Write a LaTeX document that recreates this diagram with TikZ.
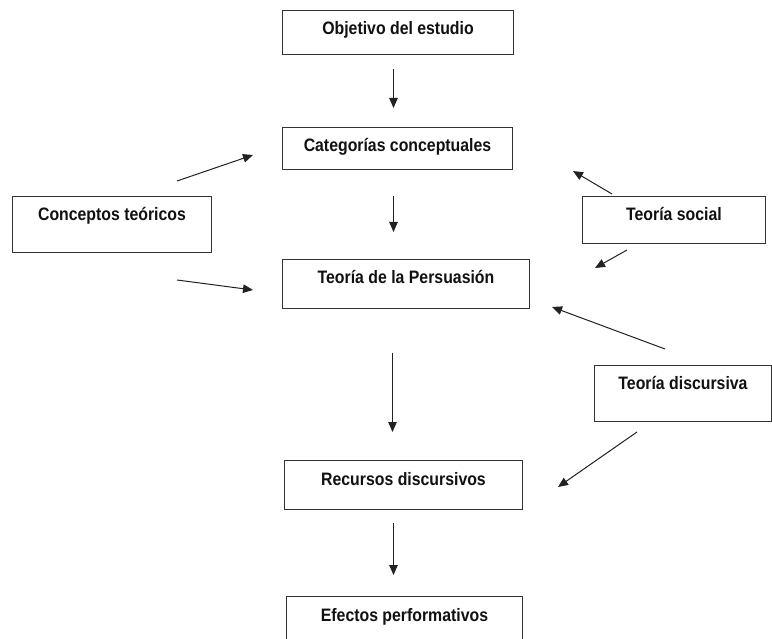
\documentclass[tikz,border=0pt]{standalone}
\usepackage{fontspec}
\setmainfont{Liberation Sans}[FakeStretch=0.88]
\usetikzlibrary{arrows.meta,calc}
\definecolor{boxline}{HTML}{333333}
\definecolor{arrline}{HTML}{222222}
\definecolor{txt}{HTML}{111111}
\tikzset{
  bx/.style={draw=boxline, line width=1pt, inner sep=0pt, anchor=north west,
    text=txt, font=\fontsize{18}{20}\selectfont\bfseries,
    text height=24.5pt, align=center},
  arr/.style={draw=arrline, line width=1pt, -{Triangle[length=10pt,width=8.5pt]}}
}
\begin{document}
\begin{tikzpicture}[x=1pt,y=-1pt]
\useasboundingbox (0,0) rectangle (772,639);
\clip (0,0) rectangle (772,639);
\fill[white] (0,0) rectangle (772,639);
% boxes
\node[bx, minimum width=231pt, text depth=19.5pt] (obj) at (282,10) {Objetivo del estudio};
\node[bx, minimum width=230pt, text depth=17.5pt] (cat) at (282,127) {Categorías conceptuales};
\node[bx, minimum width=247pt, text depth=24.5pt] (per) at (282,259) {Teoría de la Persuasión};
\node[bx, minimum width=238pt, text depth=24.5pt] (rec) at (284,460) {Recursos discursivos};
\node[bx, minimum width=236pt, text depth=35.5pt] (efe) at (286,596) {Efectos performativos};
\node[bx, minimum width=199pt, text depth=31.5pt] (con) at (12,196) {Conceptos teóricos};
\node[bx, minimum width=183pt, text depth=22.5pt] (soc) at (582,196) {Teoría social};
\node[bx, minimum width=177pt, text depth=31.5pt] (dis) at (594,365) {Teoría discursiva};
% vertical connectors
\draw[arr, shorten <=14pt, shorten >=19pt] ([xshift=-4.5pt]obj.south) -- ([xshift=-4.5pt]obj.south |- cat.north);
\draw[arr, shorten <=26pt, shorten >=27pt] ([xshift=-4pt]cat.south) -- ([xshift=-4pt]cat.south |- per.north);
\draw[arr, shorten <=44pt, shorten >=28pt] ([xshift=-13.5pt]per.south) -- ([xshift=-13.5pt]per.south |- rec.north);
\draw[arr, shorten <=13pt, shorten >=21pt] ([xshift=-10pt]rec.south) -- ([xshift=-10pt]rec.south |- efe.north);
% side connector ends
\coordinate (conA) at (177,181);
\coordinate (catL) at (253,155);
\coordinate (conB) at (177,280);
\coordinate (perL) at (253,290);
\coordinate (socA) at (612,194);
\coordinate (catR) at (573,171);
\coordinate (socB) at (627,250);
\coordinate (perR1) at (595,268);
\coordinate (disA) at (665,349);
\coordinate (perR2) at (552,307);
\coordinate (disB) at (637,432);
\coordinate (recR) at (558,487);
\draw[arr] (conA) -- (catL);
\draw[arr] (conB) -- (perL);
\draw[arr] (socA) -- (catR);
\draw[arr] (socB) -- (perR1);
\draw[arr] (disA) -- (perR2);
\draw[arr] (disB) -- (recR);
\end{tikzpicture}
\end{document}
